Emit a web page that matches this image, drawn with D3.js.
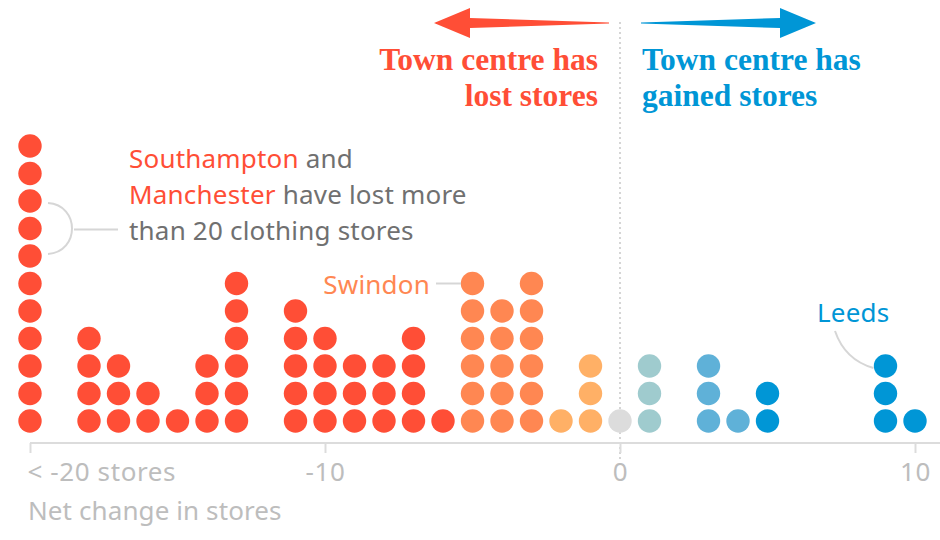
<!DOCTYPE html>
<html><head><meta charset="utf-8">
<script src="https://cdn.jsdelivr.net/npm/d3@7"></script>
<style>body{margin:0;background:#fff}svg{display:block}</style>
</head><body>
<svg id="c" width="940" height="540"></svg>
<script>
const values = [-20,-18,-17,-16,-15,-14,-13,-11,-10,-9,-8,-7,-6,-5,-4,-3,-2,-1,0,1,3,4,5,9,10];
const counts = [11,4,3,2,1,3,6,5,4,3,3,4,1,6,5,6,1,3,1,3,3,1,2,3,1];
const tickValues = [-20,-10,0,10];
const tickLabels = ["< -20 stores","-10","0","10"];
const binEdges = [-5.5,-2.5,-0.5,0.5,2.5,4.5];
const binColors = ["#ff4e36","#ff8752","#ffb066","#dcdcdc","#9fcbce","#5fb1d8","#0096d6"];

const svg = d3.select("#c");
const x = d3.scaleLinear().domain([-20,10]).range([30,915]);
const y = d3.scaleLinear().domain([0,10]).range([421,146]);
const color = d3.scaleThreshold().domain(binEdges).range(binColors);
const sans = "'Noto Sans', sans-serif";
const serif = "'Liberation Serif', serif";

// zero line
svg.append("line").attr("x1",x(0)).attr("x2",x(0)).attr("y1",22).attr("y2",462)
  .attr("stroke","#c8c8c8").attr("stroke-width",1.5).attr("stroke-dasharray","2,3");

// axis
const axis = d3.axisBottom(x).tickValues(tickValues).tickSize(10).tickFormat((d,i)=>tickLabels[i]);
const ax = svg.append("g").attr("transform","translate(0,443)").call(axis);
ax.select(".domain").remove();
ax.append("line").attr("x1",x(-20)).attr("x2",940).attr("stroke","#dcdcdc").attr("stroke-width",2);
ax.selectAll(".tick line").attr("stroke","#dcdcdc").attr("stroke-width",2);
ax.selectAll(".tick text").attr("fill","#bdbdbd").attr("font-family",sans).attr("font-size",26)
  .attr("letter-spacing",0.6).attr("dy","0.98em");
ax.selectAll(".tick").filter(d=>d===-20).select("text").attr("text-anchor","start").attr("dx",-3);
svg.append("text").attr("x",28).attr("y",520).text("Net change in stores")
  .attr("fill","#bdbdbd").attr("font-family",sans).attr("font-size",26).attr("letter-spacing",0.1);

// dots
const dots = [];
values.forEach((v,i)=>{ for(let k=0;k<counts[i];k++) dots.push({v,k}); });
svg.append("g").selectAll("circle").data(dots).join("circle")
  .attr("cx",d=>x(d.v)).attr("cy",d=>y(d.k)).attr("r",11.7).attr("fill",d=>color(d.v));

// arrows
function arrow(x0,x1,cy,col){
  const dir = Math.sign(x1-x0);
  const hl = 36*dir, hw = 15, sw = 5;
  const p = d3.path();
  p.moveTo(x0,cy-0.5);
  p.lineTo(x1-hl,cy-sw);
  p.lineTo(x1-hl,cy-hw);
  p.lineTo(x1,cy);
  p.lineTo(x1-hl,cy+hw);
  p.lineTo(x1-hl,cy+sw);
  p.lineTo(x0,cy+0.5);
  p.closePath();
  svg.append("path").attr("d",p.toString()).attr("fill",col);
}
arrow(609,434,23,"#ff4e36");
arrow(641,816,23,"#0096d6");

// headings
const hd = svg.append("g").attr("font-family",serif).attr("font-weight","bold").attr("font-size",31.5);
hd.append("text").attr("x",598).attr("y",70).attr("text-anchor","end").attr("fill","#ff4e36").text("Town centre has");
hd.append("text").attr("x",598).attr("y",106).attr("text-anchor","end").attr("fill","#ff4e36").text("lost stores");
hd.append("text").attr("x",642).attr("y",70).attr("fill","#0096d6").text("Town centre has");
hd.append("text").attr("x",642).attr("y",106).attr("fill","#0096d6").text("gained stores");

// annotations
const an = svg.append("g").attr("font-family",sans).attr("font-size",26).attr("fill","#707070").attr("letter-spacing",0.2);
const t1 = an.append("text").attr("x",129).attr("y",168);
t1.append("tspan").attr("fill","#ff4e36").text("Southampton");
t1.append("tspan").text(" and");
const t2 = an.append("text").attr("x",129).attr("y",204);
t2.append("tspan").attr("fill","#ff4e36").text("Manchester");
t2.append("tspan").text(" have lost more");
an.append("text").attr("x",129).attr("y",240).text("than 20 clothing stores");
an.append("text").attr("x",430).attr("y",294).attr("text-anchor","end").attr("fill","#ff8752").text("Swindon");
an.append("text").attr("x",817).attr("y",322).attr("fill","#0096d6").text("Leeds");

// connectors
const cs = svg.append("g").attr("fill","none").attr("stroke","#d6d6d6").attr("stroke-width",2);
cs.append("path").attr("d",`M${x(-20)+18},${y(8)+2} C${x(-20)+50},${y(8)+4} ${x(-20)+50},${y(6)-4} ${x(-20)+18},${y(6)-2}`);
cs.append("line").attr("x1",x(-20)+44).attr("x2",118).attr("y1",y(7)+1).attr("y2",y(7)+1);
cs.append("line").attr("x1",436).attr("x2",461).attr("y1",y(5)).attr("y2",y(5));
cs.append("path").attr("d",`M835,331 Q845,360 ${x(9)-12},${y(2)+2}`);
</script>
</body></html>
